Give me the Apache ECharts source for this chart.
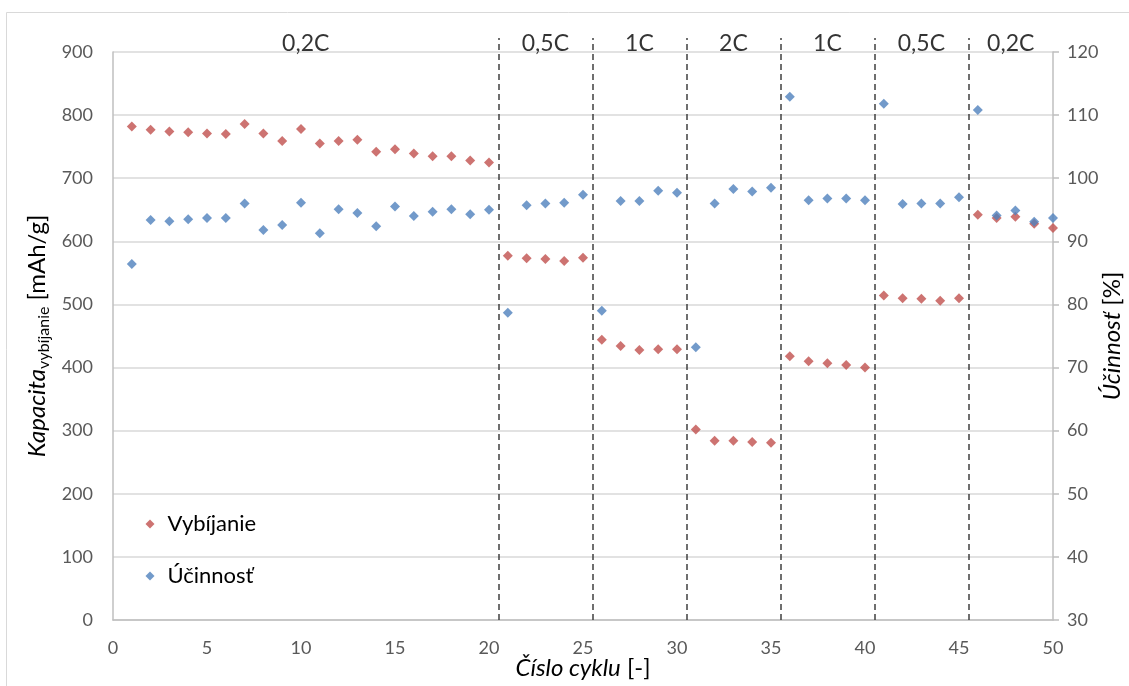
<!DOCTYPE html>
<html>
<head>
<meta charset="utf-8">
<script src="https://cdn.jsdelivr.net/npm/echarts@6/dist/echarts.min.js"></script>
<style>
html,body{margin:0;padding:0;background:#fff;}
#chart{width:1129px;height:686px;}
</style>
</head>
<body>
<div id="chart"></div>
<script>
const cycles = [1,2,3,4,5,6,7,8,9,10,11,12,13,14,15,16,17,18,19,20,21,22,23,24,25,26,27,28,29,30,31,32,33,34,35,36,37,38,39,40,41,42,43,44,45,46,47,48,49,50];
const discharge = [782,777,774,773,771,770,786,771,759,778,755,759,761,742,746,739,735,735,728,725,577,573,572,569,574,444,434,428,429,429,302,284,284,282,281,418,410,407,404,400,514,510,509,506,510,642,637,639,628,621];
const efficiency = [86.4,93.4,93.2,93.5,93.7,93.7,96.0,91.8,92.6,96.1,91.3,95.1,94.5,92.4,95.5,94.0,94.7,95.1,94.3,95.0,78.7,95.7,96.0,96.1,97.4,79.0,96.4,96.4,98.0,97.7,73.2,96.0,98.3,97.9,98.5,112.9,96.5,96.8,96.8,96.5,111.8,95.9,96.0,96.0,97.0,110.8,94.1,94.9,93.1,93.7];
const rateBounds = [0,20.5,25.5,30.5,35.5,40.5,45.5,50];
const rateLabels = ['0,2C','0,5C','1C','2C','1C','0,5C','0,2C'];
const xTicks = [0,5,10,15,20,25,30,35,40,45,50];
const leftTicks = [0,100,200,300,400,500,600,700,800,900];
const rightTicks = [30,40,50,60,70,80,90,100,110,120];

const FONT = 'Lato';
const dischargeData = cycles.map((c,i)=>[c,discharge[i]]);
const effData = cycles.map((c,i)=>[c,efficiency[i]]);
const dividers = rateBounds.slice(1,-1).map(v=>({xAxis:v}));
const rateData = rateLabels.map((l,i)=>[(rateBounds[i]+rateBounds[i+1])/2, 0.9897, l]);

const chart = echarts.init(document.getElementById('chart'), null, {renderer:'canvas'});
chart.setOption({
  backgroundColor:'#fff',
  animation:false,
  textStyle:{fontFamily:FONT},
  graphic:[{type:'rect', shape:{x:6.5,y:12.5,width:1200,height:1000}, style:{fill:'none',stroke:'#d9d9d9',lineWidth:1}, silent:true, z:-10}],
  grid:[
    {left:113,right:76,top:52,bottom:66,containLabel:false,outerBoundsMode:'none'},
    {left:113,right:76,top:38,bottom:66,containLabel:false,outerBoundsMode:'none'}
  ],
  legend:{
    orient:'vertical', left:145.5, top:511, padding:0,
    itemWidth:9, itemHeight:9, itemGap:26, icon:'diamond',
    textStyle:{fontFamily:FONT,fontSize:22,color:'#000',lineHeight:26,padding:[0,0,0,8]},
    data:['Vybíjanie','Účinnosť']
  },
  xAxis:[
    {gridIndex:0,type:'value',min:0,max:50,interval:5,
     axisLine:{show:true,lineStyle:{color:'#bfbfbf',width:1.5}},
     axisTick:{show:false},splitLine:{show:false},
     axisLabel:{color:'#595959',fontSize:18,fontFamily:FONT,margin:19},
     name:'{it|Číslo cyklu}{n| [-]}',nameLocation:'middle',nameGap:36,nameMoveOverlap:false,
     nameTextStyle:{rich:{it:{fontStyle:'italic',fontSize:24,color:'#000',fontFamily:FONT},n:{fontSize:24,color:'#000',fontFamily:FONT}}}
    },
    {gridIndex:1,type:'value',min:0,max:50,show:false}
  ],
  yAxis:[
    {gridIndex:0,type:'value',min:0,max:900,interval:100,position:'left',
     axisLine:{show:true,lineStyle:{color:'#bfbfbf',width:1.5}},
     axisTick:{show:false},
     splitLine:{show:true,lineStyle:{color:'#d9d9d9',width:1.5}},
     axisLabel:{color:'#595959',fontSize:18,fontFamily:FONT,margin:20},
     name:'{it|Kapacita}{sub|vybíjanie}{n| [mAh/g]}',nameLocation:'middle',nameRotate:90,nameGap:61,nameMoveOverlap:false,
     nameTextStyle:{rich:{
       it:{fontStyle:'italic',fontSize:24,color:'#000',fontFamily:FONT,lineHeight:30},
       sub:{fontSize:16,color:'#000',fontFamily:FONT,lineHeight:18,verticalAlign:'bottom'},
       n:{fontSize:24,color:'#000',fontFamily:FONT,lineHeight:30}}}
    },
    {gridIndex:0,type:'value',min:30,max:120,interval:10,position:'right',
     axisLine:{show:true,lineStyle:{color:'#bfbfbf',width:1.5}},
     axisTick:{show:true,length:6,lineStyle:{color:'#bfbfbf',width:1.5}},
     splitLine:{show:false},
     axisLabel:{color:'#595959',fontSize:18,fontFamily:FONT,margin:14},
     name:'{it|Účinnosť}{n| [%]}',nameLocation:'middle',nameRotate:90,nameGap:47,nameMoveOverlap:false,
     nameTextStyle:{rich:{it:{fontStyle:'italic',fontSize:24,color:'#000',fontFamily:FONT},n:{fontSize:24,color:'#000',fontFamily:FONT}}}
    },
    {gridIndex:1,type:'value',min:0,max:1,show:false}
  ],
  series:[
    {name:'rates',type:'scatter',xAxisIndex:1,yAxisIndex:2,symbolSize:0,silent:true,
     data:rateData,
     label:{show:true,position:'inside',formatter:p=>p.value[2],fontSize:23,color:'#000',fontFamily:FONT},
     markLine:{silent:true,symbol:'none',label:{show:false},
       lineStyle:{type:[6,4],color:'#404040',width:1.5},
       data:dividers}
    },
    {name:'Vybíjanie',type:'scatter',xAxisIndex:0,yAxisIndex:0,symbol:'diamond',symbolSize:10,
     itemStyle:{color:'#c0504d'},data:dischargeData,z:3},
    {name:'Účinnosť',type:'scatter',xAxisIndex:0,yAxisIndex:1,symbol:'diamond',symbolSize:10,
     itemStyle:{color:'#4f81bd'},data:effData,z:3}
  ]
});
</script>
</body>
</html>
